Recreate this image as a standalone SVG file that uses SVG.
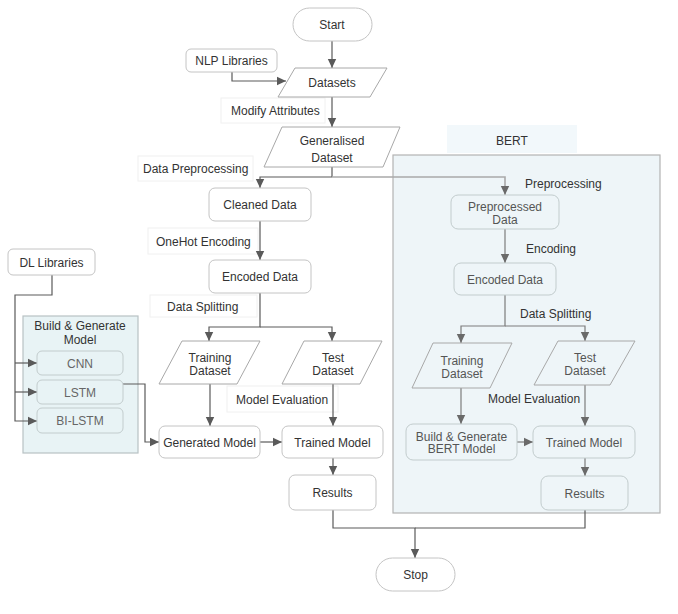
<svg xmlns="http://www.w3.org/2000/svg" width="678" height="614" viewBox="0 0 678 614">
  <style>
    text { font-family: "Liberation Sans", Arial, sans-serif; font-size: 12px; fill: #333; text-anchor: middle; }
    text.lbl { text-anchor: start; }
    text.soft { fill: #555; }
    text.sub { fill: #666; }
    .node { fill: #fff; stroke: #c4c4c4; stroke-width: 1; }
    .para { fill: #fff; stroke: #a8a8a8; stroke-width: 1; }
    .sub-node { fill: #e8f3f5; stroke: #c2cccd; stroke-width: 1; }
    .lblbg { fill: #fff; stroke: #f0f0f0; stroke-width: 1; }
    .edge { fill: none; stroke: #5a5a5a; stroke-width: 1.2; }
    .edge-b { fill: none; stroke: #7c7c7c; stroke-width: 1.2; }
    .edge-b2 { fill: none; stroke: #a9a9a9; stroke-width: 1.6; }
  </style>
  <defs>
    <marker id="arr" markerUnits="userSpaceOnUse" markerWidth="10" markerHeight="10" refX="9" refY="5" orient="auto">
      <path d="M0,0.8 L9,5 L0,9.2 Z" fill="#5a5a5a"/>
    </marker>
    <marker id="arrb" markerUnits="userSpaceOnUse" markerWidth="10" markerHeight="10" refX="9" refY="5" orient="auto">
      <path d="M0,0.8 L9,5 L0,9.2 Z" fill="#6a6a6a"/>
    </marker>
  </defs>

  <rect width="678" height="614" fill="#fff"/>

  <!-- containers -->
  <g id="bert-group">
    <rect x="447" y="125" width="130" height="28" fill="#f2f8fb"/>
    <text x="512" y="144.5">BERT</text>
    <rect x="393" y="155" width="267" height="358" fill="#eef5f8" stroke="#b3b3b3" stroke-width="1.2"/>
  </g>
  <g id="build-group">
    <rect x="23" y="316" width="115" height="137" fill="#e8f3f5" stroke="#b8c2c4" stroke-width="1.2"/>
    <text x="80" y="329.5">Build &amp; Generate</text>
    <text x="80" y="343.5">Model</text>
  </g>

  <!-- edge labels (backgrounds) -->
  <g id="labels">
    <rect class="lblbg" x="221" y="98" width="104" height="25"/>
    <text class="lbl" x="231" y="115">Modify Attributes</text>
    <rect class="lblbg" x="138" y="156" width="115" height="25"/>
    <text class="lbl" x="143" y="172.5">Data Preprocessing</text>
    <rect class="lblbg" x="148" y="228" width="110" height="26"/>
    <text class="lbl" x="156" y="245.5">OneHot Encoding</text>
    <rect class="lblbg" x="150" y="295" width="107" height="22"/>
    <text class="lbl" x="167" y="310.5">Data Splitting</text>
    <rect class="lblbg" x="227" y="386" width="111" height="26"/>
    <text class="lbl" x="236" y="403.5">Model Evaluation</text>

    <text class="lbl" x="525" y="187.5">Preprocessing</text>
    <text class="lbl" x="526" y="252.5">Encoding</text>
    <text class="lbl" x="520" y="317.5">Data Splitting</text>
    <text class="lbl" x="488" y="402.5">Model Evaluation</text>
  </g>

  <!-- connectors -->
  <g id="connectors">
    <path class="edge" d="M332 41 V68" marker-end="url(#arr)"/>
    <path class="edge" d="M232 72 V81 H286" marker-end="url(#arr)"/>
    <path class="edge" d="M332 97 V127" marker-end="url(#arr)"/>
    <path class="edge" d="M332 167 V177"/>
    <path class="edge" d="M332 177 H260 V188" marker-end="url(#arr)"/>
    <path class="edge-b2" d="M332 177 H505 V195" marker-end="url(#arrb)"/>
    <path class="edge" d="M260 221 V260" marker-end="url(#arr)"/>
    <path class="edge" d="M260 293 V327 H209 V341" marker-end="url(#arr)"/>
    <path class="edge" d="M260 327 H332 V341" marker-end="url(#arr)"/>
    <path class="edge" d="M210 384 V426" marker-end="url(#arr)"/>
    <path class="edge" d="M333 384 V426" marker-end="url(#arr)"/>
    <path class="edge" d="M260 442 H282" marker-end="url(#arr)"/>
    <path class="edge" d="M333 458 V475" marker-end="url(#arr)"/>
    <path class="edge" d="M333 510 V528 H415 V558" marker-end="url(#arr)"/>
    <path class="edge" d="M585 510 V528 H415"/>

    <path class="edge" d="M52 275 V295 H15 V421 H37" marker-end="url(#arr)"/>
    <path class="edge" d="M15 363 H37" marker-end="url(#arr)"/>
    <path class="edge" d="M15 392 H37" marker-end="url(#arr)"/>
    <path class="edge" d="M123 384 H145 V442 H159" marker-end="url(#arr)"/>

    <path class="edge-b" d="M505 229 V263" marker-end="url(#arrb)"/>
    <path class="edge-b" d="M505 295 V326 H461 V343" marker-end="url(#arrb)"/>
    <path class="edge-b" d="M505 326 H585 V341" marker-end="url(#arrb)"/>
    <path class="edge-b" d="M461 388 V424" marker-end="url(#arrb)"/>
    <path class="edge-b" d="M585 385 V426" marker-end="url(#arrb)"/>
    <path class="edge-b" d="M517 442 H533" marker-end="url(#arrb)"/>
    <path class="edge-b" d="M585 458 V476" marker-end="url(#arrb)"/>
  </g>

  <!-- main flow nodes -->
  <g id="start">
    <rect class="node" x="293" y="8" width="79" height="33" rx="16.5"/>
    <text x="332" y="29">Start</text>
  </g>
  <g id="nlp-libraries">
    <rect class="node" x="186" y="49" width="91" height="23" rx="5"/>
    <text x="231.5" y="65">NLP Libraries</text>
  </g>
  <g id="datasets">
    <polygon class="para" points="295,68 387,68 370,97 278,97"/>
    <text x="332" y="87">Datasets</text>
  </g>
  <g id="generalised-dataset">
    <polygon class="para" points="282,127 400,127 383,167 264,167"/>
    <text x="332" y="144.5">Generalised</text>
    <text x="332" y="162">Dataset</text>
  </g>
  <g id="cleaned-data">
    <rect class="node" x="209" y="188" width="102" height="33" rx="6"/>
    <text x="260" y="209">Cleaned Data</text>
  </g>
  <g id="encoded-data">
    <rect class="node" x="209" y="260" width="102" height="33" rx="6"/>
    <text x="260" y="281">Encoded Data</text>
  </g>
  <g id="training-dataset">
    <polygon class="para" points="182,341 260,341 237,384 159,384"/>
    <text x="210" y="361.5">Training</text>
    <text x="210" y="374.5">Dataset</text>
  </g>
  <g id="test-dataset">
    <polygon class="para" points="304,341 382,341 360,384 282,384"/>
    <text x="333" y="361.5">Test</text>
    <text x="333" y="374.5">Dataset</text>
  </g>
  <g id="generated-model">
    <rect class="node" x="159" y="426" width="101" height="32" rx="6"/>
    <text x="209.5" y="446.5">Generated Model</text>
  </g>
  <g id="trained-model">
    <rect class="node" x="282" y="426" width="101" height="32" rx="6"/>
    <text x="332.5" y="446.5">Trained Model</text>
  </g>
  <g id="results">
    <rect class="node" x="289" y="475" width="87" height="35" rx="6"/>
    <text x="332.5" y="497">Results</text>
  </g>
  <g id="stop">
    <rect class="node" x="376" y="558" width="79" height="33" rx="16.5"/>
    <text x="415.5" y="579">Stop</text>
  </g>

  <!-- deep learning side -->
  <g id="dl-libraries">
    <rect class="node" x="8" y="249" width="87" height="26" rx="5"/>
    <text x="51.5" y="266.5">DL Libraries</text>
  </g>
  <g id="cnn">
    <rect class="sub-node" x="37" y="351" width="86" height="24" rx="5"/>
    <text class="sub" x="80" y="367.5">CNN</text>
  </g>
  <g id="lstm">
    <rect class="sub-node" x="37" y="380" width="86" height="24" rx="5"/>
    <text class="sub" x="80" y="396.5">LSTM</text>
  </g>
  <g id="bi-lstm">
    <rect class="sub-node" x="37" y="408" width="86" height="25" rx="5"/>
    <text class="sub" x="80" y="425">BI-LSTM</text>
  </g>

  <!-- BERT branch -->
  <g id="bert-preprocessed-data">
    <rect class="sub-node" x="451" y="195" width="108" height="34" rx="7" style="fill:#eef5f8"/>
    <text class="soft" x="505" y="210.5">Preprocessed</text>
    <text class="soft" x="505" y="223.5">Data</text>
  </g>
  <g id="bert-encoded-data">
    <rect class="sub-node" x="454" y="263" width="102" height="32" rx="7" style="fill:#eef5f8"/>
    <text class="soft" x="505" y="283.5">Encoded Data</text>
  </g>
  <g id="bert-training-dataset">
    <polygon class="para" points="433,343 512,343 490,388 412,388" style="fill:#eef5f8"/>
    <text class="soft" x="462" y="364.5">Training</text>
    <text class="soft" x="462" y="377.5">Dataset</text>
  </g>
  <g id="bert-test-dataset">
    <polygon class="para" points="558,341 635,341 610,385 534,385" style="fill:#eef5f8"/>
    <text class="soft" x="585" y="361.5">Test</text>
    <text class="soft" x="585" y="374.5">Dataset</text>
  </g>
  <g id="bert-build-model">
    <rect class="sub-node" x="406" y="424" width="111" height="36" rx="7" style="fill:#eef5f8"/>
    <text class="soft" x="461.5" y="440.5">Build &amp; Generate</text>
    <text class="soft" x="461.5" y="453">BERT Model</text>
  </g>
  <g id="bert-trained-model">
    <rect class="sub-node" x="533" y="426" width="102" height="32" rx="7" style="fill:#eef5f8"/>
    <text class="soft" x="584" y="446.5">Trained Model</text>
  </g>
  <g id="bert-results">
    <rect class="sub-node" x="541" y="476" width="87" height="34" rx="7" style="fill:#eef5f8"/>
    <text class="soft" x="584.5" y="497.5">Results</text>
  </g>
</svg>
